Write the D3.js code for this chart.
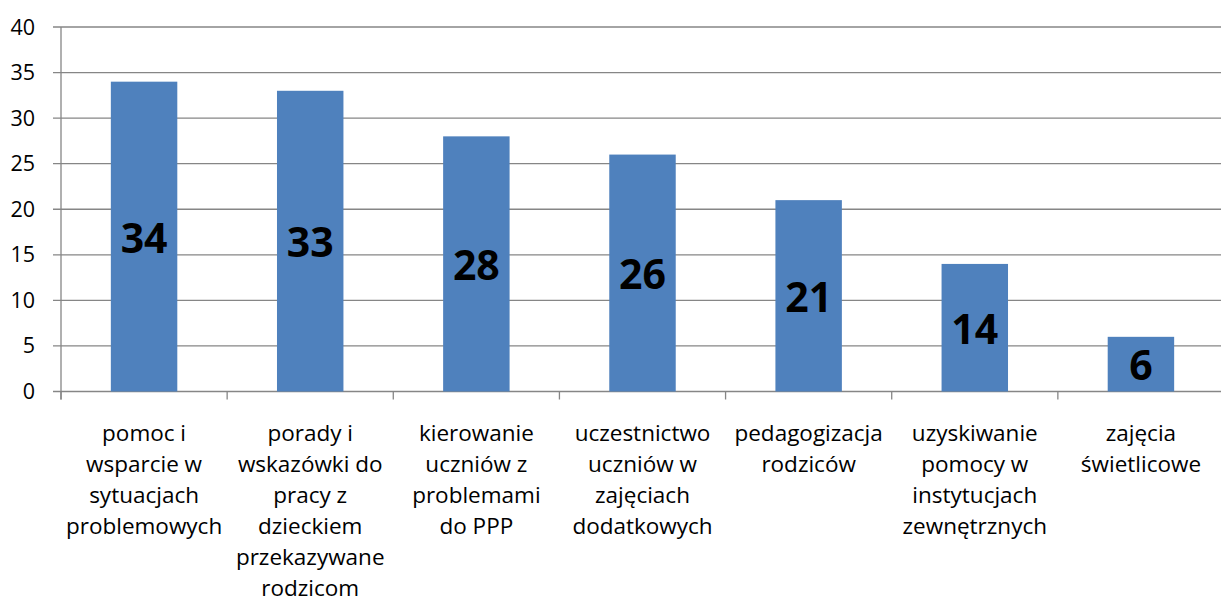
<!DOCTYPE html>
<html>
<head>
<meta charset="utf-8">
<script src="https://cdn.jsdelivr.net/npm/d3@7"></script>
<style>
  body { margin: 0; background: #fff; }
  svg { display: block; font-family: "Open Sans", sans-serif; }
</style>
</head>
<body>
<div class="chart"></div>
<script>
// categories (wrapped the way the axis shows them) and values
const categories = [
  ["pomoc i", "wsparcie w", "sytuacjach", "problemowych"],
  ["porady i", "wskazówki do", "pracy z", "dzieckiem", "przekazywane", "rodzicom"],
  ["kierowanie", "uczniów z", "problemami", "do PPP"],
  ["uczestnictwo", "uczniów w", "zajęciach", "dodatkowych"],
  ["pedagogizacja", "rodziców"],
  ["uzyskiwanie", "pomocy w", "instytucjach", "zewnętrznych"],
  ["zajęcia", "świetlicowe"]
];
const values = [34, 33, 28, 26, 21, 14, 6];
const yTicks = [0, 5, 10, 15, 20, 25, 30, 35, 40];

const width = 1221;
const height = 614;
const margin = {top: 27, left: 61, bottom: 222.5};
const plotRight = 1224;
const plotBottom = height - margin.bottom;

const svg = d3.select('.chart')
  .append('svg')
  .attr('width', width)
  .attr('height', height);

const x = d3.scaleBand()
  .domain(d3.range(categories.length))
  .range([margin.left, plotRight])
  .paddingInner(0.6)
  .paddingOuter(0.3);

const y = d3.scaleLinear()
  .domain([0, 40])
  .range([plotBottom, margin.top]);

// horizontal gridlines + tick marks
svg.append('g')
  .selectAll('line')
  .data(yTicks)
  .enter()
  .append('line')
  .attr('x1', margin.left - 8)
  .attr('x2', plotRight)
  .attr('y1', d => y(d))
  .attr('y2', d => y(d))
  .attr('stroke', '#868686')
  .attr('stroke-width', 1.3);

// y tick labels
svg.append('g')
  .selectAll('text')
  .data(yTicks)
  .enter()
  .append('text')
  .attr('x', 35)
  .attr('y', d => y(d) + 7.5)
  .attr('text-anchor', 'end')
  .attr('font-size', 21.5)
  .attr('fill', '#000')
  .text(d => d);

// y axis line
svg.append('line')
  .attr('x1', margin.left).attr('x2', margin.left)
  .attr('y1', margin.top).attr('y2', plotBottom + 8)
  .attr('stroke', '#868686')
  .attr('stroke-width', 1.3);

// category tick marks at band boundaries
const step = x.step();
svg.append('g')
  .selectAll('line')
  .data(d3.range(categories.length + 1))
  .enter()
  .append('line')
  .attr('x1', i => margin.left + i * step)
  .attr('x2', i => margin.left + i * step)
  .attr('y1', plotBottom)
  .attr('y2', plotBottom + 8)
  .attr('stroke', '#868686')
  .attr('stroke-width', 1.3);

// bars
svg.append('g')
  .selectAll('rect')
  .data(values)
  .enter()
  .append('rect')
  .attr('x', (d, i) => x(i))
  .attr('y', d => y(d))
  .attr('width', x.bandwidth())
  .attr('height', d => y(0) - y(d))
  .attr('fill', '#4F81BD');

// value labels in the middle of bars
svg.append('g')
  .selectAll('text')
  .data(values)
  .enter()
  .append('text')
  .attr('x', (d, i) => x(i) + x.bandwidth() / 2)
  .attr('y', d => y(d / 2) + 16)
  .attr('text-anchor', 'middle')
  .attr('font-size', 41)
  .attr('font-weight', 'bold')
  .attr('fill', '#000')
  .text(d => d);

// category labels
const catLabels = svg.append('g')
  .selectAll('text')
  .data(categories)
  .enter()
  .append('text')
  .attr('text-anchor', 'middle')
  .attr('font-size', 22.5)
  .attr('fill', '#000');

catLabels.selectAll('tspan')
  .data((d, i) => d.map(line => ({line, i})))
  .enter()
  .append('tspan')
  .attr('x', d => x(d.i) + x.bandwidth() / 2)
  .attr('y', (d, j) => 441 + j * 31)
  .text(d => d.line);
</script>
</body>
</html>
